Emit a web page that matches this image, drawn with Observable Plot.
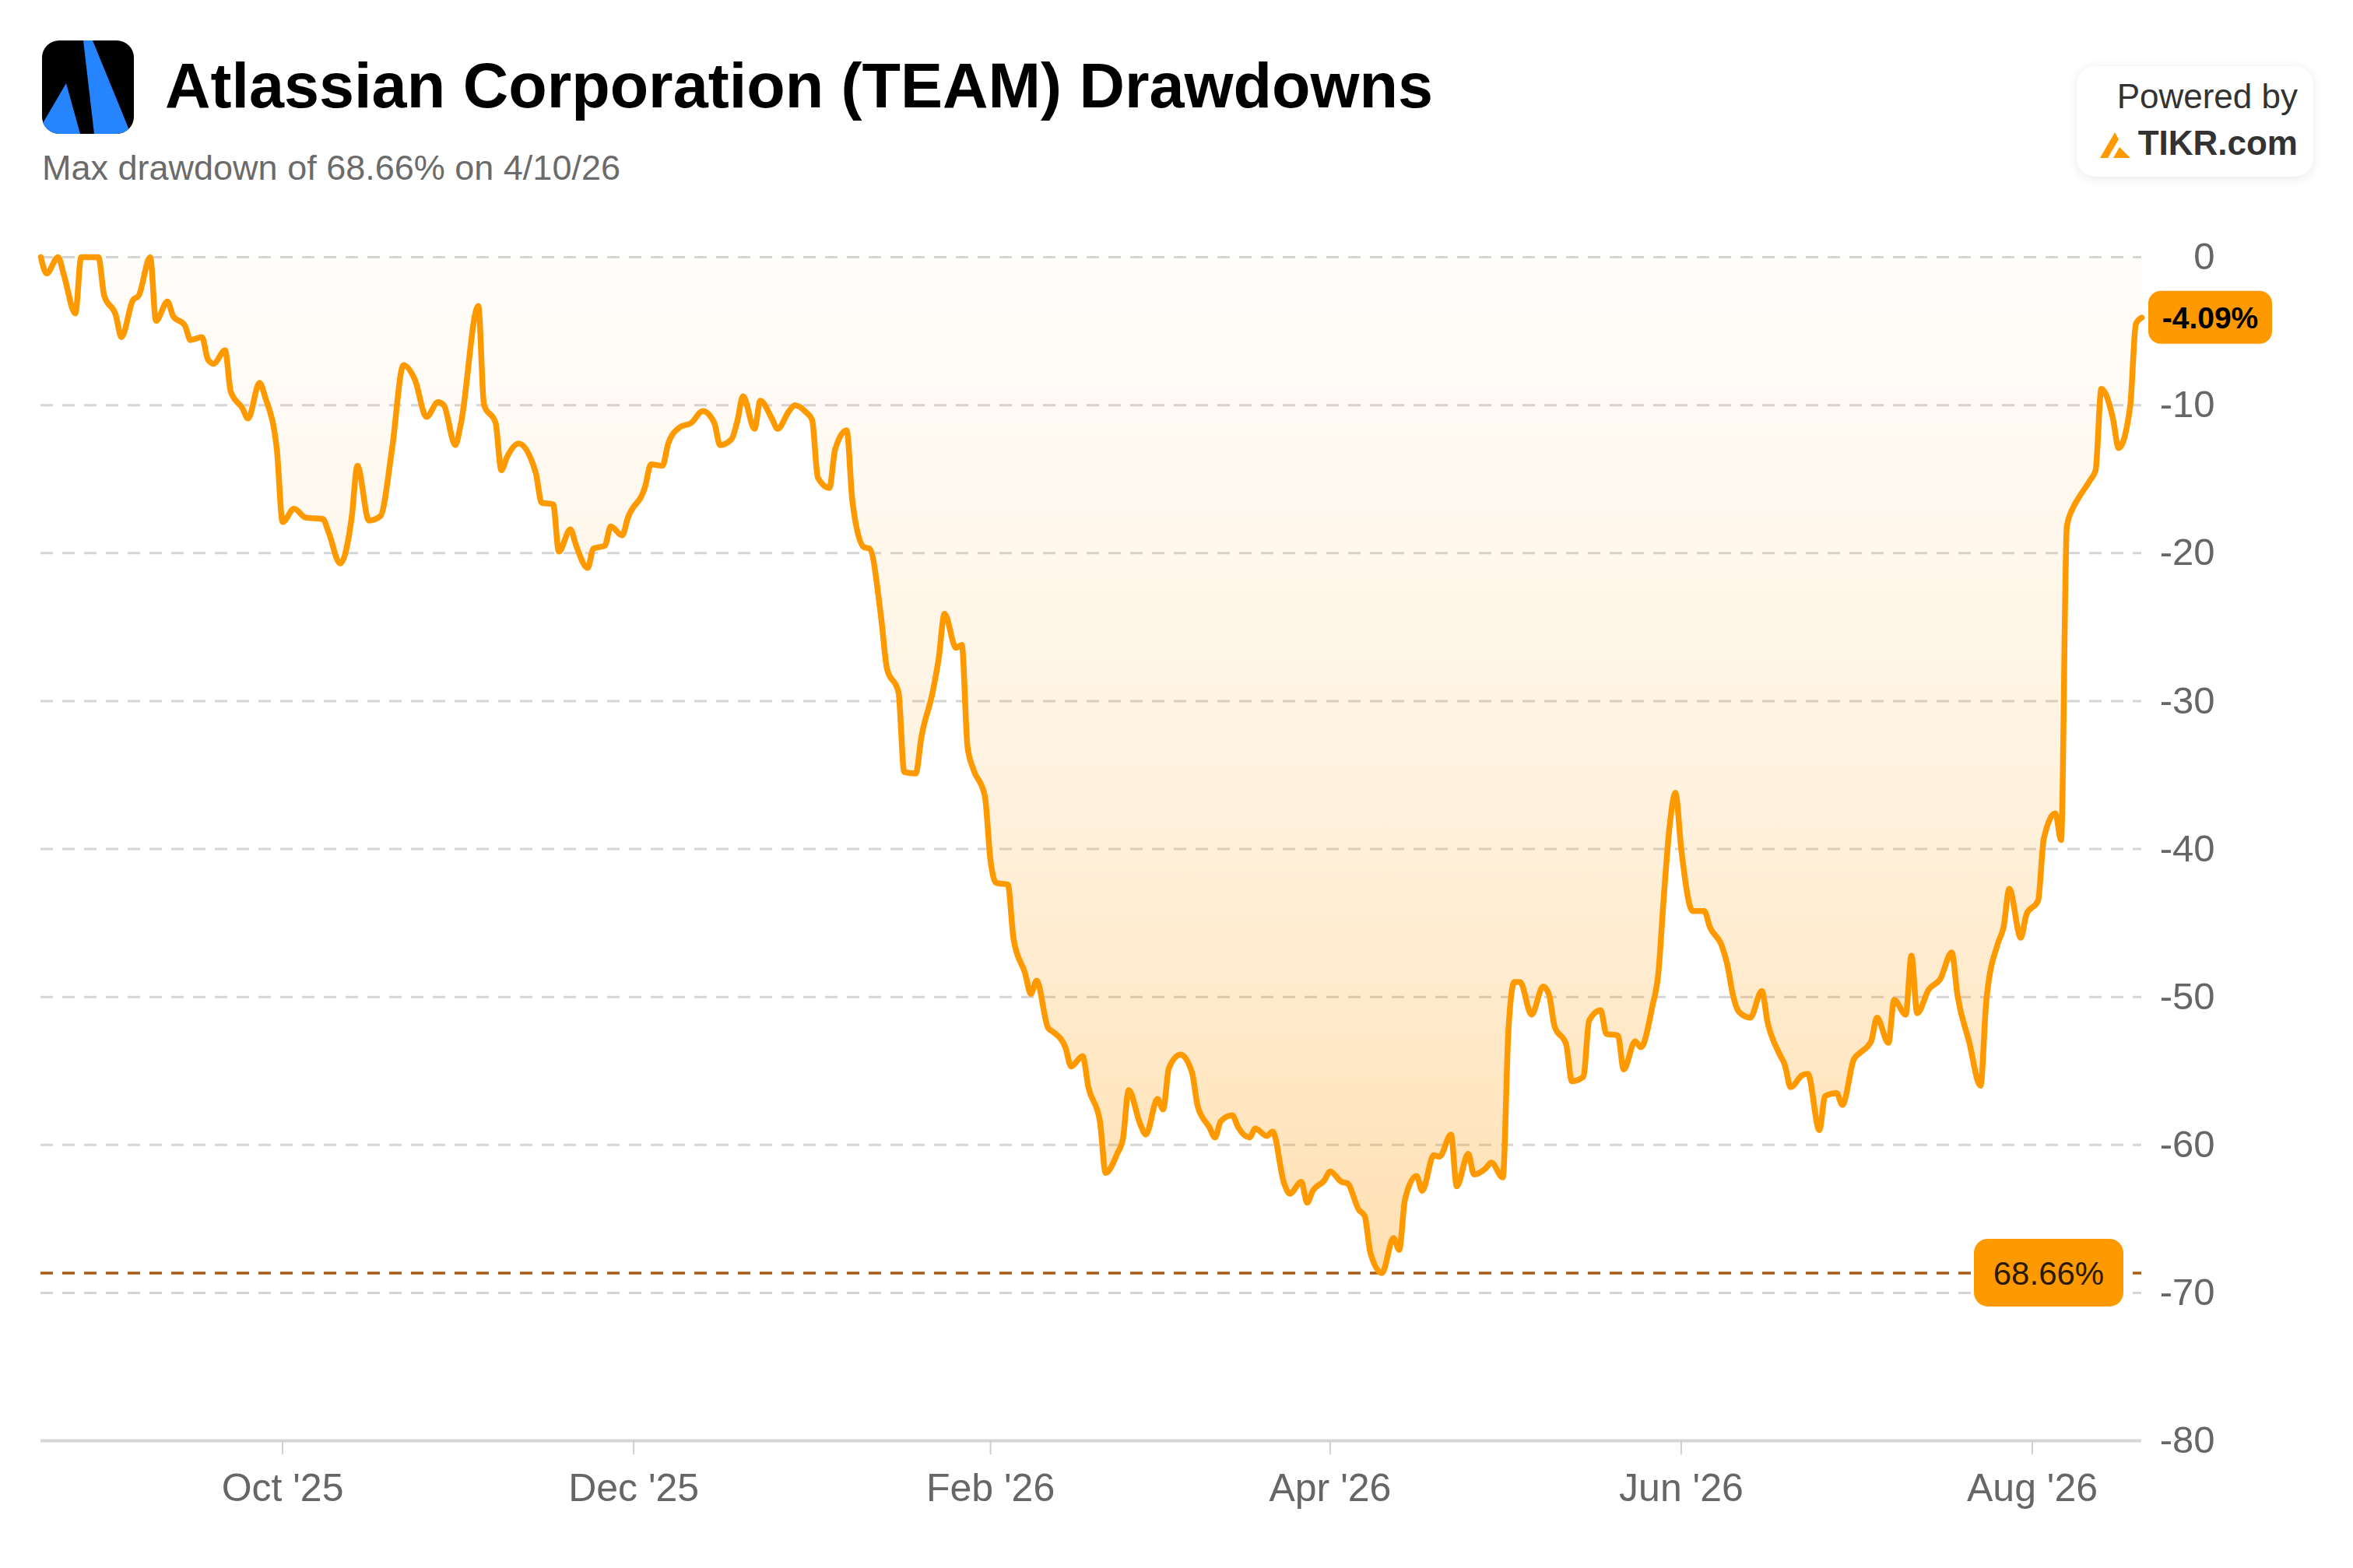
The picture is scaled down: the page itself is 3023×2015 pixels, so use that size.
<!DOCTYPE html>
<html>
<head>
<meta charset="utf-8">
<script src="https://cdn.jsdelivr.net/npm/d3@7"></script>
<script src="https://cdn.jsdelivr.net/npm/@observablehq/plot@0.6"></script>
<style>
  html, body { margin: 0; padding: 0; background: #ffffff; }
  body { font-family: "Liberation Sans", Arial, Helvetica, sans-serif; }
  #page { position: relative; width: 3023px; height: 2015px; overflow: hidden; background: #fff; }
  #header { position: relative; width: 3023px; height: 260px; }
  .logo { position: absolute; left: 54px; top: 52px; width: 118px; height: 120px; border-radius: 22px; overflow: hidden; background: #000; }
  .logo svg { display: block; }
  .title { position: absolute; left: 212px; top: 70px; font-size: 81px; line-height: 1; font-weight: 700; color: #000; white-space: nowrap; }
  .subtitle { position: absolute; left: 54px; top: 193px; font-size: 45px; line-height: 1; color: #6b6b6b; white-space: nowrap; }
  .powered { position: absolute; left: 2668px; top: 85px; width: 304px; height: 142px; border-radius: 24px; background: #fff;
             box-shadow: 0 2px 14px rgba(0,0,0,0.09); }
  .powered .by { position: absolute; right: 20px; top: 17px; font-size: 44px; line-height: 1; color: #333; white-space: nowrap; }
  .powered .tikr { position: absolute; right: 20px; top: 77px; font-size: 44px; line-height: 1; font-weight: 700; color: #333; white-space: nowrap; }
  .powered .icon { position: absolute; left: 30px; top: 83px; }
  #chart svg { display: block; }
</style>
</head>
<body>
<div id="page">
  <div id="header">
    <div class="logo">
      <svg width="118" height="120" viewBox="0 0 118 120">
        <polygon points="53,0 65,0 114,120 67,120" fill="#2684ff"/>
        <polygon points="31,55 49,120 0,120 0,108" fill="#2684ff"/>
      </svg>
    </div>
    <div class="title">Atlassian Corporation (TEAM) Drawdowns</div>
    <div class="subtitle">Max drawdown of 68.66% on 4/10/26</div>
    <div class="powered">
      <div class="by">Powered by</div>
      <svg class="icon" width="40" height="36" viewBox="0 0 40 36">
        <polygon points="0,35 19,2 24,11 10,35" fill="#ff9900"/>
        <polygon points="17,35 25,21 39,35" fill="#ff9900"/>
      </svg>
      <div class="tikr">TIKR.com</div>
    </div>
  </div>
  <div id="chart"></div>
</div>
<script>
// ---- data ----
const dates = [
  "2025-08-20","2025-08-21","2025-08-23","2025-08-24","2025-08-26","2025-08-27","2025-08-30","2025-08-31",
  "2025-09-02","2025-09-03","2025-09-05","2025-09-06","2025-09-08","2025-09-09","2025-09-11","2025-09-12",
  "2025-09-14","2025-09-15","2025-09-17","2025-09-18","2025-09-19","2025-09-21","2025-09-22","2025-09-24",
  "2025-09-25","2025-09-27","2025-09-28","2025-09-30","2025-10-01","2025-10-03","2025-10-05","2025-10-08",
  "2025-10-09","2025-10-11","2025-10-13","2025-10-14","2025-10-16","2025-10-18","2025-10-20","2025-10-22",
  "2025-10-24","2025-10-26","2025-10-28","2025-10-29","2025-10-31","2025-11-01","2025-11-04","2025-11-05",
  "2025-11-07","2025-11-08","2025-11-09","2025-11-11","2025-11-14","2025-11-15","2025-11-17","2025-11-18",
  "2025-11-20","2025-11-21","2025-11-23","2025-11-24","2025-11-26","2025-11-27","2025-11-29","2025-11-30",
  "2025-12-03","2025-12-04","2025-12-06","2025-12-07","2025-12-09","2025-12-11","2025-12-13","2025-12-15",
  "2025-12-16","2025-12-18","2025-12-19","2025-12-20","2025-12-22","2025-12-23","2025-12-25","2025-12-26",
  "2025-12-28","2025-12-29","2025-12-31","2026-01-01","2026-01-02","2026-01-04","2026-01-05","2026-01-07",
  "2026-01-08","2026-01-10","2026-01-11","2026-01-13","2026-01-14","2026-01-16","2026-01-17","2026-01-19",
  "2026-01-20","2026-01-22","2026-01-23","2026-01-24","2026-01-26","2026-01-27","2026-01-28","2026-01-29",
  "2026-01-31","2026-02-01","2026-02-02","2026-02-04","2026-02-05","2026-02-07","2026-02-08","2026-02-09",
  "2026-02-11","2026-02-12","2026-02-14","2026-02-15","2026-02-17","2026-02-18","2026-02-20","2026-02-21",
  "2026-02-23","2026-02-24","2026-02-25","2026-02-27","2026-02-28","2026-03-02","2026-03-03","2026-03-04",
  "2026-03-06","2026-03-08","2026-03-09","2026-03-11","2026-03-12","2026-03-13","2026-03-15","2026-03-16",
  "2026-03-18","2026-03-19","2026-03-21","2026-03-22","2026-03-24","2026-03-25","2026-03-27","2026-03-28",
  "2026-03-29","2026-03-31","2026-04-01","2026-04-03","2026-04-04","2026-04-06","2026-04-07","2026-04-08",
  "2026-04-10","2026-04-12","2026-04-13","2026-04-14","2026-04-16","2026-04-17","2026-04-19","2026-04-20",
  "2026-04-22","2026-04-23","2026-04-25","2026-04-26","2026-04-28","2026-04-29","2026-05-01","2026-05-02",
  "2026-05-03","2026-05-04","2026-05-06","2026-05-08","2026-05-09","2026-05-10","2026-05-12","2026-05-13",
  "2026-05-15","2026-05-16","2026-05-18","2026-05-19","2026-05-21","2026-05-22","2026-05-24","2026-05-25",
  "2026-05-27","2026-05-28","2026-05-29","2026-05-30","2026-05-31","2026-06-01","2026-06-03","2026-06-05",
  "2026-06-06","2026-06-08","2026-06-09","2026-06-10","2026-06-11","2026-06-13","2026-06-15","2026-06-16",
  "2026-06-18","2026-06-19","2026-06-20","2026-06-22","2026-06-23","2026-06-25","2026-06-26","2026-06-28",
  "2026-06-29","2026-07-01","2026-07-02","2026-07-04","2026-07-05","2026-07-07","2026-07-08","2026-07-10",
  "2026-07-11","2026-07-12","2026-07-14","2026-07-16","2026-07-18","2026-07-19","2026-07-21","2026-07-23",
  "2026-07-24","2026-07-26","2026-07-27","2026-07-28","2026-07-30","2026-07-31","2026-08-02","2026-08-03",
  "2026-08-05","2026-08-06","2026-08-07","2026-08-08","2026-08-09","2026-08-11","2026-08-12","2026-08-13",
  "2026-08-15","2026-08-16","2026-08-18","2026-08-19","2026-08-20"
];
const values = [
  0,-1.1,0,-1.2,-3.8,0,0,-2.6,
  -3.9,-5.4,-2.9,-2.6,0,-4.3,-3.0,-4.0,
  -4.6,-5.6,-5.4,-6.9,-7.2,-6.3,-9.1,-10.2,
  -10.9,-8.5,-9.5,-13.0,-17.9,-17.0,-17.6,-17.7,
  -18.6,-20.7,-17.6,-14.1,-17.8,-17.5,-13.0,-7.3,
  -8.3,-10.8,-9.8,-10.0,-12.7,-11.2,-3.3,-10.0,
  -11.2,-14.4,-13.5,-12.6,-14.6,-16.6,-16.7,-19.9,
  -18.4,-19.5,-21.0,-19.7,-19.5,-18.2,-18.8,-17.6,
  -15.5,-14.0,-14.1,-12.6,-11.5,-11.2,-10.4,-11.2,
  -12.7,-12.3,-11.1,-9.4,-11.6,-9.7,-10.9,-11.6,
  -10.4,-10.0,-10.5,-11.0,-14.9,-15.6,-13.0,-11.7,
  -16.5,-19.6,-19.7,-24.4,-27.8,-29.4,-34.8,-34.9,
  -32.4,-29.3,-27.1,-24.1,-26.4,-26.2,-33.1,-34.6,
  -36.4,-40.8,-42.3,-42.4,-46.1,-48.4,-49.8,-48.9,
  -52.1,-52.4,-53.4,-54.7,-54.0,-56.1,-58.4,-61.9,
  -60.6,-59.6,-56.3,-58.6,-59.3,-56.9,-57.6,-54.8,
  -53.9,-55.1,-57.4,-58.8,-59.5,-58.4,-58.0,-58.8,
  -59.5,-58.9,-59.4,-59.1,-62.6,-63.3,-62.5,-63.9,
  -63.1,-62.4,-61.8,-62.5,-62.6,-64.4,-64.8,-67.3,
  -68.66,-66.3,-67.1,-63.7,-62.1,-63.1,-60.7,-60.8,
  -59.3,-62.8,-60.6,-62.0,-61.6,-61.2,-62.2,-52.1,
  -49.0,-49.0,-51.2,-49.3,-49.8,-52.0,-53.2,-55.7,
  -55.4,-51.6,-50.9,-52.5,-52.6,-54.9,-53.0,-53.4,
  -50.6,-48.5,-43.1,-38.4,-36.2,-40.0,-44.2,-44.2,
  -45.3,-46.5,-47.8,-49.9,-51.0,-51.4,-49.6,-51.7,
  -53.8,-54.6,-56.1,-55.3,-55.2,-59.0,-56.7,-56.5,
  -57.3,-54.2,-53.8,-53.0,-51.4,-53.1,-50.2,-51.2,
  -47.2,-51.1,-49.5,-48.8,-47.0,-49.9,-53.0,-56.0,
  -50.3,-46.4,-45.3,-42.7,-46.0,-44.4,-43.5,-39.3,
  -37.6,-39.4,-18.2,-17.0,-16.3,-15.1,-14.4,-8.9,
  -10.9,-12.9,-10.1,-4.5,-4.09
];
const yTicks = [0, -10, -20, -30, -40, -50, -60, -70, -80];
const yTickLabels = ["0", "-10", "-20", "-30", "-40", "-50", "-60", "-70", "-80"];
const xTickDates = ["2025-10-01", "2025-12-01", "2026-02-01", "2026-04-01", "2026-06-01", "2026-08-01"];
const xTickLabels = ["Oct '25", "Dec '25", "Feb '26", "Apr '26", "Jun '26", "Aug '26"];
const maxDrawdown = -68.66;
const maxDrawdownDate = "2026-04-10";
const lastValue = -4.09;

// ---- build table ----
const data = dates.map((d, i) => ({date: new Date(d), value: values[i]}));
const xDomain = [new Date(dates[0]), new Date(dates[dates.length - 1])];
const lastDate = new Date(dates[dates.length - 1]);
const xLabelMap = new Map(xTickDates.map((d, i) => [+new Date(d), xTickLabels[i]]));
const yLabelMap = new Map(yTicks.map((v, i) => [v, yTickLabels[i]]));

const ORANGE = "#ff9900";
const NS = "http://www.w3.org/2000/svg";

function gradientDefs() {
  return () => {
    const defs = document.createElementNS(NS, "defs");
    const g = document.createElementNS(NS, "linearGradient");
    g.setAttribute("id", "ddFill");
    g.setAttribute("x1", "0"); g.setAttribute("y1", "0");
    g.setAttribute("x2", "0"); g.setAttribute("y2", "1");
    [[0, 0.015], [0.5, 0.12], [1, 0.30]].forEach(([o, a]) => {
      const s = document.createElementNS(NS, "stop");
      s.setAttribute("offset", o);
      s.setAttribute("stop-color", ORANGE);
      s.setAttribute("stop-opacity", a);
      g.appendChild(s);
    });
    defs.appendChild(g);
    return defs;
  };
}

function badge(date, value, text, o) {
  return (index, scales) => {
    const px = scales.x(date), py = scales.y(value);
    const x0 = o.side === "right" ? px + o.gap : px - o.gap - o.w;
    const g = document.createElementNS(NS, "g");
    const r = document.createElementNS(NS, "rect");
    r.setAttribute("x", x0); r.setAttribute("y", py - o.h / 2);
    r.setAttribute("width", o.w); r.setAttribute("height", o.h);
    r.setAttribute("rx", o.r); r.setAttribute("fill", ORANGE);
    g.appendChild(r);
    const t = document.createElementNS(NS, "text");
    t.setAttribute("x", x0 + o.w / 2); t.setAttribute("y", py);
    t.setAttribute("dy", "0.36em");
    t.setAttribute("text-anchor", "middle");
    t.setAttribute("font-size", o.size);
    t.setAttribute("font-weight", o.weight);
    t.setAttribute("fill", o.color);
    t.textContent = text;
    g.appendChild(t);
    return g;
  };
}

const chart = Plot.plot({
  width: 3023,
  height: 1755,
  marginTop: 70,
  marginBottom: 164,
  marginLeft: 52,
  marginRight: 272,
  style: {fontFamily: "'Liberation Sans', Arial, Helvetica, sans-serif", background: "#ffffff", overflow: "visible"},
  x: {type: "utc", domain: xDomain, label: null},
  y: {domain: [-80, 0], label: null},
  marks: [
    gradientDefs(),
    Plot.ruleY(yTicks.slice(0, -1), {stroke: "#d5d5d5", strokeWidth: 3, strokeDasharray: "16,12"}),
    Plot.areaY(data, {x: "date", y1: () => 0, y2: "value", fill: "url(#ddFill)", curve: "monotone-x"}),
    Plot.ruleY([-80], {stroke: "#d6d6d6", strokeWidth: 4}),
    Plot.ruleY([maxDrawdown], {stroke: "#a95a17", strokeWidth: 3.5, strokeDasharray: "16,12"}),
    Plot.lineY(data, {x: "date", y: "value", stroke: ORANGE, strokeWidth: 7.5, curve: "monotone-x", strokeLinejoin: "round", strokeLinecap: "round"}),
    Plot.axisX({
      ticks: xTickDates.map(d => new Date(d)),
      tickFormat: d => xLabelMap.get(+d),
      tickSize: 18, tickPadding: 24, fontSize: 50,
      stroke: "#cfcfcf", strokeWidth: 2, fill: "#666666", label: null
    }),
    Plot.axisY({
      anchor: "right",
      ticks: yTicks,
      tickFormat: v => yLabelMap.get(v),
      tickSize: 0, tickPadding: 0, dx: 94, textAnchor: "end",
      fontSize: 49, fill: "#666666", label: null
    }),
    badge(lastDate, maxDrawdown, `${Math.abs(maxDrawdown).toFixed(2)}%`,
      {side: "left", gap: 23, w: 192, h: 87, r: 18, size: 42, weight: 400, color: "#2a1a00"}),
    badge(lastDate, lastValue, `${lastValue.toFixed(2)}%`,
      {side: "right", gap: 9, w: 159, h: 68, r: 16, size: 39, weight: 700, color: "#000000"})
  ]
});
document.getElementById("chart").appendChild(chart);
</script>
</body>
</html>
